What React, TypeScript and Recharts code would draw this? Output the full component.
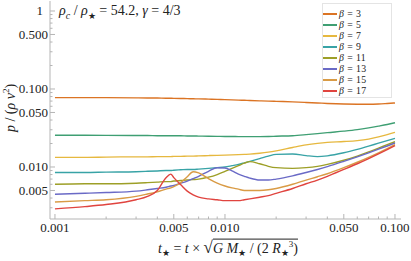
import React from "react";
import { LineChart, Line, XAxis, YAxis } from "recharts";

// t_star grid shared by all curves
const tStar = [
  0.001, 0.0015, 0.002, 0.003, 0.0035, 0.004, 0.0045, 0.0048, 0.005, 0.0055,
  0.006, 0.0065, 0.007, 0.008, 0.009, 0.01, 0.011, 0.012, 0.013, 0.014,
  0.016, 0.018, 0.02, 0.025, 0.03, 0.035, 0.04, 0.05, 0.06, 0.07,
  0.08, 0.09, 0.1,
];

const beta3 = [
  0.0775, 0.0775, 0.0774, 0.077, 0.0768, 0.0765, 0.0762, 0.076, 0.0758, 0.0755,
  0.0752, 0.0749, 0.0746, 0.0741, 0.0735, 0.073, 0.0725, 0.072, 0.0716, 0.0712,
  0.0705, 0.0699, 0.0694, 0.0684, 0.0672, 0.0662, 0.0653, 0.0642, 0.0638, 0.0637,
  0.0642, 0.0652, 0.0662,
];
const beta5 = [
  0.0255, 0.0255, 0.0254, 0.0253, 0.0253, 0.0252, 0.0252, 0.0251, 0.0251, 0.0251,
  0.025, 0.025, 0.0249, 0.0248, 0.0247, 0.0246, 0.0246, 0.0245, 0.0245, 0.0245,
  0.0245, 0.0246, 0.0248, 0.0252, 0.026, 0.0268, 0.0276, 0.0288, 0.0301, 0.0317,
  0.0334, 0.0351, 0.037,
];
const beta7 = [
  0.0133, 0.0133, 0.0134, 0.0135, 0.0135, 0.0136, 0.0136, 0.0136, 0.0137, 0.0137,
  0.0138, 0.0138, 0.0139, 0.014, 0.0141, 0.0142, 0.0143, 0.0144, 0.0145, 0.0146,
  0.015, 0.0155, 0.0161, 0.0178, 0.0192, 0.0201, 0.0207, 0.0212, 0.0218, 0.0228,
  0.0243, 0.026, 0.0278,
];
const beta9 = [
  0.0085, 0.0085, 0.0086, 0.0087, 0.0088, 0.0089, 0.009, 0.009, 0.0091, 0.0092,
  0.0093, 0.0093, 0.0094, 0.0096, 0.0098, 0.01, 0.0104, 0.0108, 0.0113, 0.0118,
  0.0128, 0.0138, 0.0145, 0.0147, 0.014, 0.0136, 0.0139, 0.0152, 0.0168, 0.0185,
  0.0202, 0.0218, 0.0233,
];
const beta11 = [
  0.006, 0.0061, 0.0061, 0.0062, 0.0063, 0.0064, 0.0065, 0.0065, 0.0066, 0.0067,
  0.0068, 0.0069, 0.007, 0.0074, 0.008, 0.0088, 0.0096, 0.0104, 0.0112, 0.0117,
  0.011, 0.0102, 0.0098, 0.0096, 0.0098, 0.0102, 0.0108, 0.0122, 0.0138, 0.0156,
  0.0175, 0.0193, 0.0211,
];
const beta13 = [
  0.00447, 0.0046, 0.0047, 0.0049, 0.0051, 0.0053, 0.0055, 0.0057, 0.0058, 0.0062,
  0.0066, 0.0071, 0.0076, 0.0088, 0.0098, 0.0097, 0.0089, 0.0081, 0.0076, 0.0072,
  0.0068, 0.0068, 0.007, 0.0077, 0.0085, 0.0093, 0.0101, 0.0118, 0.0135, 0.0152,
  0.0169, 0.0186, 0.0203,
];
const beta15 = [
  0.00356, 0.0037, 0.0038, 0.0042, 0.0045, 0.0048, 0.0052, 0.0054, 0.0056, 0.0063,
  0.0075, 0.0087, 0.0084, 0.0071, 0.0062, 0.0057, 0.0054, 0.0052, 0.005, 0.005,
  0.005, 0.0051, 0.0053, 0.006, 0.0068, 0.0075, 0.0082, 0.0098, 0.0115, 0.0133,
  0.0152, 0.0172, 0.0193,
];
const beta17 = [
  0.0029, 0.0031, 0.0033, 0.0038, 0.0042, 0.005, 0.0073, 0.0081, 0.0073, 0.0059,
  0.0049, 0.0044, 0.0041, 0.0039, 0.0038, 0.0037, 0.0037, 0.0037, 0.0038, 0.0039,
  0.0041, 0.0043, 0.0046, 0.0053, 0.0061, 0.0068, 0.0076, 0.0093, 0.011, 0.0128,
  0.0147, 0.0167, 0.0188,
];

const betaNames = ["3", "5", "7", "9", "11", "13", "15", "17"];
const colors = [
  "#db7424", "#3f9f73", "#e6b83f", "#38a3a6",
  "#9d9f27", "#6a6ac6", "#d99b45", "#e0443f",
];
const series = [beta3, beta5, beta7, beta9, beta11, beta13, beta15, beta17];

const xMajor = [0.001, 0.005, 0.01, 0.05, 0.1];
const xLabels = ["0.001", "0.005", "0.010", "0.050", "0.100"];
const xMinor = [0.002, 0.003, 0.004, 0.006, 0.007, 0.008, 0.009, 0.02, 0.03, 0.04, 0.06, 0.07, 0.08, 0.09];
const yMajor = [0.005, 0.01, 0.05, 0.1, 0.5, 1];
const yLabels = ["0.005", "0.010", "0.050", "0.100", "0.500", "1"];
const yMinor = [0.003, 0.004, 0.006, 0.007, 0.008, 0.009, 0.02, 0.03, 0.04, 0.06, 0.07, 0.08, 0.09, 0.2, 0.3, 0.4, 0.6, 0.7, 0.8, 0.9];

const rows = tStar.map((t, i) => {
  const r: Record<string, number> = { t };
  series.forEach((s, k) => (r["b" + k] = s[i]));
  return r;
});

const frame = "#b5b5b5";
const serif = "Liberation Serif, Times New Roman, Times, DejaVu Serif, serif";
const xDomain = [0.000935, 0.1085];
const yDomain = [0.002154, 1.343];

const majorIdx = (list: number[], v: number) =>
  list.findIndex((m) => Math.abs(m - v) / m < 1e-6);

function BottomTick(p: any) {
  const i = majorIdx(xMajor, p.payload.value);
  return (
    <g>
      <line x1={p.x} x2={p.x} y1={p.y} y2={p.y - (i >= 0 ? 5 : 2.5)} stroke={frame} />
      {i >= 0 && (
        <text x={p.x} y={p.y + 13} textAnchor="middle" fontSize={13} style={{ fontFamily: serif }} fill="#222">
          {xLabels[i]}
        </text>
      )}
    </g>
  );
}

function TopTick(p: any) {
  const i = majorIdx(xMajor, p.payload.value);
  return <line x1={p.x} x2={p.x} y1={p.y} y2={p.y + (i >= 0 ? 5 : 2.5)} stroke={frame} />;
}

function LeftTick(p: any) {
  const i = majorIdx(yMajor, p.payload.value);
  return (
    <g>
      <line x1={p.x} x2={p.x + (i >= 0 ? 5 : 2.5)} y1={p.y} y2={p.y} stroke={frame} />
      {i >= 0 && (
        <text
          x={p.payload.value === 1 ? p.x - 7 : p.x - 2}
          y={p.y + 4.5}
          textAnchor="end"
          fontSize={13}
          style={{ fontFamily: serif }}
          fill="#222"
        >
          {yLabels[i]}
        </text>
      )}
    </g>
  );
}

function RightTick(p: any) {
  const i = majorIdx(yMajor, p.payload.value);
  return <line x1={p.x} x2={p.x - (i >= 0 ? 5 : 2.5)} y1={p.y} y2={p.y} stroke={frame} />;
}

export default function App() {
  const xTicks = [...xMajor, ...xMinor];
  const yTicks = [...yMajor, ...yMinor];
  return (
    <div style={{ position: "absolute", left: 0, top: 0, width: 411, height: 261, background: "#fff", fontFamily: serif }}>
      <LineChart width={411} height={261} data={rows} margin={{ top: 1, right: 10, bottom: 0, left: 0 }}>
        <XAxis
          dataKey="t"
          type="number"
          scale="log"
          domain={xDomain}
          allowDataOverflow
          ticks={xTicks}
          interval={0}
          height={42}
          tickSize={0}
          tickMargin={0}
          tickLine={false}
          axisLine={{ stroke: frame }}
          tick={(p: any) => <BottomTick {...p} />}
        />
        <XAxis
          xAxisId="top"
          orientation="top"
          dataKey="t"
          type="number"
          scale="log"
          domain={xDomain}
          allowDataOverflow
          ticks={xTicks}
          interval={0}
          height={0}
          tickSize={0}
          tickMargin={0}
          tickLine={false}
          axisLine={{ stroke: frame }}
          tick={(p: any) => <TopTick {...p} />}
        />
        <YAxis
          type="number"
          scale="log"
          domain={yDomain}
          allowDataOverflow
          ticks={yTicks}
          interval={0}
          width={50}
          tickSize={0}
          tickMargin={0}
          tickLine={false}
          axisLine={{ stroke: frame }}
          tick={(p: any) => <LeftTick {...p} />}
        />
        <YAxis
          yAxisId="right"
          orientation="right"
          type="number"
          scale="log"
          domain={yDomain}
          allowDataOverflow
          ticks={yTicks}
          interval={0}
          width={0}
          tickSize={0}
          tickMargin={0}
          tickLine={false}
          axisLine={{ stroke: frame }}
          tick={(p: any) => <RightTick {...p} />}
        />
        {series.map((_, k) => (
          <Line
            key={k}
            dataKey={"b" + k}
            type="monotone"
            stroke={colors[k]}
            strokeWidth={1.4}
            dot={false}
            activeDot={false}
            isAnimationActive={false}
          />
        ))}
      </LineChart>

      <div style={{ position: "absolute", left: 59, top: 4, fontSize: 14, lineHeight: "14px", color: "#222", whiteSpace: "nowrap" }}>
        <i>ρ</i><sub style={{ fontSize: 10, fontStyle: "italic" }}>c</sub> / <i>ρ</i>
        <sub style={{ fontSize: 9 }}>★</sub> = 54.2, <i>γ</i> = 4/3
      </div>

      <div
        style={{
          position: "absolute",
          left: 10,
          top: 108,
          transform: "translate(-50%, -50%) rotate(-90deg)",
          fontSize: 14,
          color: "#222",
          whiteSpace: "nowrap",
        }}
      >
        <i>p</i> / (<i>ρ</i> <i>v</i><sup style={{ fontSize: 9 }}>2</sup>)
      </div>

      <div
        style={{
          position: "absolute",
          left: 228,
          top: 248,
          transform: "translate(-50%, -50%)",
          fontSize: 14,
          color: "#222",
          whiteSpace: "nowrap",
        }}
      >
        <i>t</i><sub style={{ fontSize: 9 }}>★</sub> = <i>t</i> × <span style={{ fontSize: 17 }}>√</span>
        <span style={{ borderTop: "1px solid #222", paddingTop: 1 }}>
          <i>G</i> <i>M</i><sub style={{ fontSize: 9 }}>★</sub> / (2 <i>R</i><sub style={{ fontSize: 9 }}>★</sub>
          <sup style={{ fontSize: 9 }}>3</sup>)
        </span>
      </div>

      <div
        style={{
          position: "absolute",
          left: 322,
          top: 3,
          width: 70,
          height: 95,
          border: "1px solid #e4e4e4",
          background: "#fff",
          boxSizing: "border-box",
        }}
      >
        {betaNames.map((b, k) => (
          <div key={b} style={{ position: "absolute", left: 0, top: 4 + 11 * k, height: 11, display: "flex", alignItems: "center", whiteSpace: "nowrap" }}>
            <span style={{ display: "inline-block", width: 14, height: 2, background: colors[k], marginRight: 2 }} />
            <span style={{ fontSize: 9.8, lineHeight: "11px", color: "#222", letterSpacing: 0.4 }}>
              <i>β</i> = {b}
            </span>
          </div>
        ))}
      </div>
    </div>
  );
}
